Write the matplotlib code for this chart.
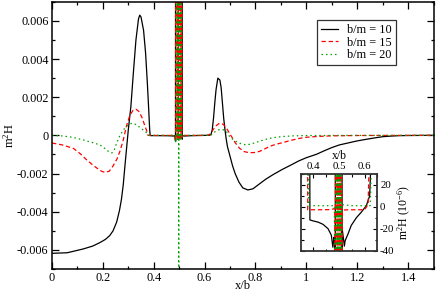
import matplotlib
matplotlib.use("Agg")
import matplotlib.pyplot as plt
import numpy as np
from matplotlib.ticker import MultipleLocator, FuncFormatter

plt.rcParams['font.family'] = ['Liberation Serif', 'DejaVu Serif']
plt.rcParams['mathtext.fontset'] = 'custom'
plt.rcParams['mathtext.rm'] = 'Liberation Serif'
plt.rcParams['mathtext.it'] = 'Liberation Serif:italic'
plt.rcParams['axes.unicode_minus'] = False

# m^2 H values in units of 1e-6 (off-scale values mark the spike at x/b = 0.5)
x_10 = [0.0, 0.06, 0.123, 0.16, 0.188, 0.21, 0.227, 0.24, 0.254, 0.265, 0.273, 0.28, 0.286, 0.293,
        0.3, 0.31, 0.32, 0.33, 0.34, 0.345, 0.35, 0.36, 0.368, 0.375, 0.38, 0.384, 0.386, 0.40,
        0.418, 0.437, 0.457, 0.47, 0.476, 0.48, 0.483, 0.4855, 0.4865, 0.5115, 0.512, 0.5125,
        0.521, 0.524, 0.535, 0.548, 0.568, 0.587, 0.607, 0.62, 0.625, 0.63, 0.635, 0.64, 0.645,
        0.652, 0.66, 0.665, 0.67, 0.675, 0.68, 0.685, 0.69, 0.70, 0.71, 0.72, 0.735, 0.75, 0.77,
        0.79, 0.81, 0.84, 0.87, 0.906, 0.94, 0.97, 1.0, 1.04, 1.07, 1.10, 1.13, 1.17, 1.2, 1.234,
        1.27, 1.30, 1.33, 1.365, 1.4, 1.45, 1.5]
y_10 = [-6180, -6150, -5950, -5800, -5620, -5450, -5250, -5000, -4550, -3950, -3350, -2600, -1700, -700,
        300, 1500, 3300, 5000, 6100, 6300, 6200, 5500, 4300, 2700, 1400, 300, -12, -13,
        -14, -16, -20, -26, -37, -28, -30, -300, 80000, 80000, -200, -20,
        -36, -31, -25, -17, -10, -5, 1, 10, 40, 300, 900, 1700, 2400,
        3000, 2900, 2500, 1700, 900, 300, -200, -600, -1100, -1600, -2000, -2450, -2750, -2860,
        -2800, -2600, -2300, -2050, -1780, -1550, -1340, -1170, -990, -810, -640, -500, -380, -290, -210,
        -130, -70, -40, -15, -8, -3, 0]

x_15 = [0.0, 0.04, 0.084, 0.11, 0.136, 0.16, 0.18, 0.195, 0.208, 0.225, 0.24, 0.255, 0.268, 0.28,
        0.293, 0.306, 0.318, 0.33, 0.342, 0.355, 0.365, 0.372, 0.375, 0.3775, 0.40, 0.44, 0.47,
        0.484, 0.486, 0.4865, 0.4915, 0.492, 0.4925, 0.4965, 0.497, 0.4975, 0.502, 0.5025, 0.503,
        0.5065, 0.507, 0.5075, 0.5105, 0.511, 0.513, 0.54, 0.60, 0.608,
        0.614, 0.618, 0.625, 0.633, 0.645, 0.655, 0.665, 0.675, 0.69, 0.70, 0.71, 0.72, 0.737,
        0.755, 0.776, 0.795, 0.816, 0.835, 0.855, 0.88, 0.907, 0.94, 0.972, 1.0, 1.04, 1.1, 1.2,
        1.35, 1.5]
y_15 = [-400, -500, -680, -950, -1280, -1550, -1750, -1880, -1940, -1880, -1600, -1250, -800, -250,
        500, 1050, 1300, 1370, 1250, 900, 500, 250, 150, -2.7, -2.7, -2.7, -2.5,
        -1.5, -300, 80000, 80000, -200, 80000, 80000, -150, 80000, 80000, -250, 80000,
        80000, -150, 80000, 80000, -100, -3, -2.7, -2.7, 0,
        2.4, 40, 120, 290, 500, 610, 640, 560, 290, 60, -150, -380, -670,
        -850, -910, -900, -840, -720, -580, -470, -380, -260, -160, -100, -60, -25, -8,
        -2, 0]

x_20 = [0.0, 0.04, 0.08, 0.123, 0.16, 0.188, 0.2, 0.214, 0.226, 0.236, 0.245, 0.254, 0.267, 0.286,
        0.3, 0.315, 0.332, 0.345, 0.358, 0.368, 0.375, 0.379, 0.381, 0.42, 0.46, 0.482, 0.4875,
        0.488, 0.4925, 0.493, 0.4935, 0.4975, 0.498, 0.4985, 0.499, 0.5035, 0.504, 0.5045,
        0.5085, 0.509, 0.511, 0.55, 0.60, 0.622, 0.626,
        0.635, 0.645, 0.655, 0.667, 0.68, 0.69, 0.698, 0.71, 0.724, 0.743, 0.763, 0.78, 0.80,
        0.82, 0.842, 0.87, 0.907, 0.95, 1.0, 1.1, 1.5]
y_20 = [0, -30, -100, -240, -380, -500, -600, -760, -880, -920, -750, -410, 0, 380,
        560, 640, 560, 420, 290, 180, 90, 30, 1, 1, 1, 1, -400,
        80000, 80000, -300, 80000, 80000, -80000, -80000, 80000, 80000, -200, 80000,
        80000, -150, 2, 1, 1, 1, 30,
        130, 230, 290, 310, 270, 130, -60, -200, -320, -440, -500, -460, -380,
        -290, -200, -120, -60, -25, -10, -3, 0]

series = [
    ("b/m = 10", x_10, y_10, dict(color='black', ls='-')),
    ("b/m = 15", x_15, y_15, dict(color='red', ls=(0, (3.5, 2.2)))),
    ("b/m = 20", x_20, y_20, dict(color='#00a000', ls=(0, (1.2, 2.4)))),
]

fmt = FuncFormatter(lambda v, p: '0' if abs(v) < 1e-12 else f'{round(v, 6):g}')

fig = plt.figure(figsize=(4.36, 2.93), dpi=100)
ax = fig.add_axes([0.1193, 0.082, 0.875, 0.912])
for label, xs, ys, style in series:
    ax.plot(xs, np.array(ys) * 1e-6, lw=0.9, label=label, **style)

ax.set_xlim(0, 1.5)
ax.set_ylim(-0.007, 0.007)
ax.xaxis.set_major_locator(MultipleLocator(0.2))
ax.xaxis.set_minor_locator(MultipleLocator(0.1))
ax.yaxis.set_major_locator(MultipleLocator(0.002))
ax.yaxis.set_minor_locator(MultipleLocator(0.001))
ax.xaxis.set_major_formatter(fmt)
ax.yaxis.set_major_formatter(fmt)
ax.tick_params(which='both', direction='in', top=True, right=True, labelsize=8.8, pad=2.5)
ax.tick_params(axis='x', pad=2)
ax.tick_params(which='major', length=4.8, width=0.9)
ax.tick_params(which='minor', length=2.4, width=0.9)
for s in ax.spines.values():
    s.set_linewidth(1.1)
ax.set_xlabel('x/b', fontsize=9, labelpad=-2.5)
ax.set_ylabel('m$^2$H', fontsize=9, labelpad=0)

leg = ax.legend(loc='upper right', bbox_to_anchor=(0.901, 0.933), borderaxespad=0,
                fontsize=8.8, frameon=True, fancybox=False, handlelength=1.4,
                handletextpad=0.7, labelspacing=0.05, borderpad=0.35)
leg.get_frame().set_edgecolor('black')
leg.get_frame().set_linewidth(0.9)

# inset: zoom on the spike, in units of 1e-6
ins = fig.add_axes([0.6897, 0.145, 0.1757, 0.2611])
for label, xs, ys, style in series:
    ins.plot(xs, ys, lw=0.9, **style)
ins.set_xlim(0.35, 0.65)
ins.set_ylim(-40, 30)
ins.xaxis.set_major_locator(MultipleLocator(0.1))
ins.xaxis.set_minor_locator(MultipleLocator(0.05))
ins.yaxis.set_major_locator(MultipleLocator(20))
ins.yaxis.set_minor_locator(MultipleLocator(10))
ins.xaxis.set_major_formatter(fmt)
ins.tick_params(which='both', direction='in', top=True, right=True, bottom=True, left=True,
                labeltop=True, labelbottom=False, labelright=True, labelleft=False,
                labelsize=7.8, pad=2)
ins.tick_params(which='major', length=3.2, width=0.8)
ins.tick_params(which='minor', length=1.8, width=0.8)
ins.xaxis.set_label_position('top')
ins.yaxis.set_label_position('right')
ins.set_xlabel('x/b', fontsize=8.5, labelpad=2.5)
ins.set_ylabel('m$^2$H (10$^{-6}$)', fontsize=8.5, labelpad=1)
for s in ins.spines.values():
    s.set_linewidth(1.3)
    s.set_edgecolor('#333333')

fig.savefig('out.png', dpi=100)
